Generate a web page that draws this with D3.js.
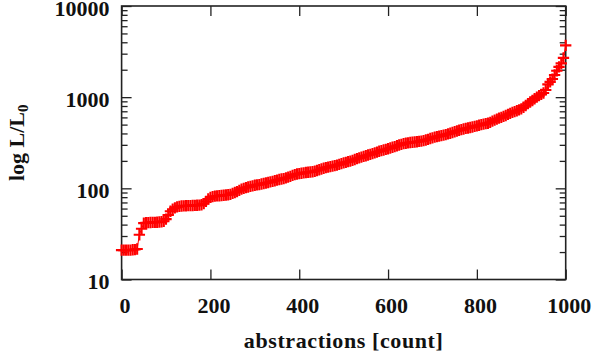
<!DOCTYPE html>
<html>
<head>
<meta charset="utf-8">
<script src="https://cdn.jsdelivr.net/npm/d3@7"></script>
<style>
  body { margin: 0; background: #fff; }
  text { font-family: "Liberation Serif", "Times New Roman", serif; font-weight: bold; fill: #111; }
</style>
</head>
<body>
<div id="chart"></div>
<script>
// likelihood ratio, every 5th abstraction (0..1000)
var step = 5;
var ratio = [
  21, 21, 21, 21, 21, 21.2, 21.3, 21.6,
  31, 36, 41.5, 42, 42, 42.2, 42.3, 42.4, 42.5, 42.7, 43, 43.5,
  46, 51, 56, 59, 61, 62.5, 63.5, 64, 64.2, 64.4, 64.5, 64.6, 64.8, 65, 65.2, 65.5, 66, 68, 72, 76.5,
  79.5, 81, 82, 82.5, 83, 83.5, 84, 84.5, 85, 86, 88, 90, 92, 95, 98, 100, 102, 103.5, 105, 106.5,
  108, 109, 110, 111.5, 113, 114.5, 116, 117.5, 119, 121, 123, 125, 126.5, 128, 130, 132.5, 135.5, 138.5, 141.5, 143.5,
  145, 146.5, 148, 149, 150, 151, 152, 154, 157, 160, 163, 166, 168.5, 171, 173, 175, 177.5, 180, 183, 186.5,
  190, 193, 196, 199, 203, 207, 212, 216, 220, 224, 228, 232, 236, 240, 245, 250, 255, 259, 263, 267,
  272, 277, 282, 287, 293, 299, 304, 309, 312, 315, 318, 320, 322, 324, 327, 330, 334, 339, 345, 352,
  358, 364, 369, 374, 379, 384, 389, 395, 402, 410, 418, 426, 434, 441, 448, 454, 459, 465, 471, 478,
  485, 492, 499, 506, 512, 518, 530, 545, 560, 575, 588, 600, 615, 630, 648, 665, 680, 695, 710, 725,
  745, 775, 810, 850, 885, 920, 960, 1000, 1040, 1075, 1110, 1200, 1380, 1470, 1580, 1750, 1950, 2150, 2350, 2700,
  3700
];
var xTicks = [0, 200, 400, 600, 800, 1000];
var yTicks = [10, 100, 1000, 10000];
var xLabel = "abstractions [count]";

var data = ratio.map(function(v, i) { return {count: i * step, ratio: v}; });

// drawing area
var margin = {top: 6, right: 26.3, bottom: 80.5, left: 121.6};
var width = 592 - margin.left - margin.right,
    height = 360 - margin.top - margin.bottom;

var svg = d3.select("#chart").append("svg")
    .attr("width", 592)
    .attr("height", 360)
    .append("g")
    .attr("transform", "translate(" + margin.left + "," + margin.top + ")");

var x = d3.scaleLinear().domain([0, 1000]).range([0, width]);
var y = d3.scaleLog().domain([10, 10000]).range([height, 0]);

var minor = y.ticks().filter(function(v) { return yTicks.indexOf(v) < 0; });

function clean(g) {
    g.select(".domain").remove();
    g.selectAll("line").attr("stroke", "#222").attr("stroke-width", 1.3);
    g.selectAll("text").attr("font-size", 22).attr("font-family", null);
}

// axes: ticks point inward on all four sides
svg.append("g")
    .call(d3.axisLeft(y).tickValues(yTicks).tickSize(-10).tickPadding(12).tickFormat(d3.format("d")))
    .call(clean)
    .selectAll("text").attr("dy", "0.42em");
svg.append("g")
    .call(d3.axisLeft(y).tickValues(minor).tickSize(-6).tickFormat(""))
    .call(clean);
svg.append("g")
    .attr("transform", "translate(" + width + ",0)")
    .call(d3.axisRight(y).tickValues(yTicks).tickSize(-10).tickFormat(""))
    .call(clean);
svg.append("g")
    .attr("transform", "translate(" + width + ",0)")
    .call(d3.axisRight(y).tickValues(minor).tickSize(-6).tickFormat(""))
    .call(clean);
svg.append("g")
    .attr("transform", "translate(0," + height + ")")
    .call(d3.axisBottom(x).tickValues(xTicks).tickSize(-10).tickPadding(18).tickFormat(d3.format("d")))
    .call(clean)
    .selectAll("text").attr("dx", 3);
svg.append("g")
    .call(d3.axisTop(x).tickValues(xTicks).tickSize(-10).tickFormat(""))
    .call(clean);

// frame
svg.append("rect")
    .attr("width", width)
    .attr("height", height)
    .attr("fill", "none")
    .attr("stroke", "#222")
    .attr("stroke-width", 1.6);

// series: thin line plus "+" markers
var line = d3.line()
    .x(function(d) { return x(d.count); })
    .y(function(d) { return y(d.ratio); });

svg.append("path")
    .datum(data)
    .attr("d", line)
    .attr("fill", "none")
    .attr("stroke", "#ff0000")
    .attr("stroke-width", 1);

var plus = d3.symbol().type(d3.symbolPlus || d3.symbolCross).size(44);
svg.selectAll(".pt")
    .data(data)
    .enter().append("path")
    .attr("class", "pt")
    .attr("d", plus)
    .attr("transform", function(d) { return "translate(" + x(d.count) + "," + y(d.ratio) + ")"; })
    .attr("fill", "none")
    .attr("stroke", "#ff0000")
    .attr("stroke-width", 2.1);

// axis titles
svg.append("text")
    .attr("x", width / 2)
    .attr("y", 348 - margin.top)
    .attr("text-anchor", "middle")
    .attr("font-size", 22)
    .attr("letter-spacing", 0.6)
    .text(xLabel);

var yt = svg.append("text")
    .attr("transform", "translate(" + (24 - margin.left) + "," + (height / 2) + ") rotate(-90)")
    .attr("text-anchor", "middle")
    .attr("font-size", 22);
yt.append("tspan").text("log L/L");
yt.append("tspan").attr("font-size", 15).attr("dy", 4).text("0");
</script>
</body>
</html>
